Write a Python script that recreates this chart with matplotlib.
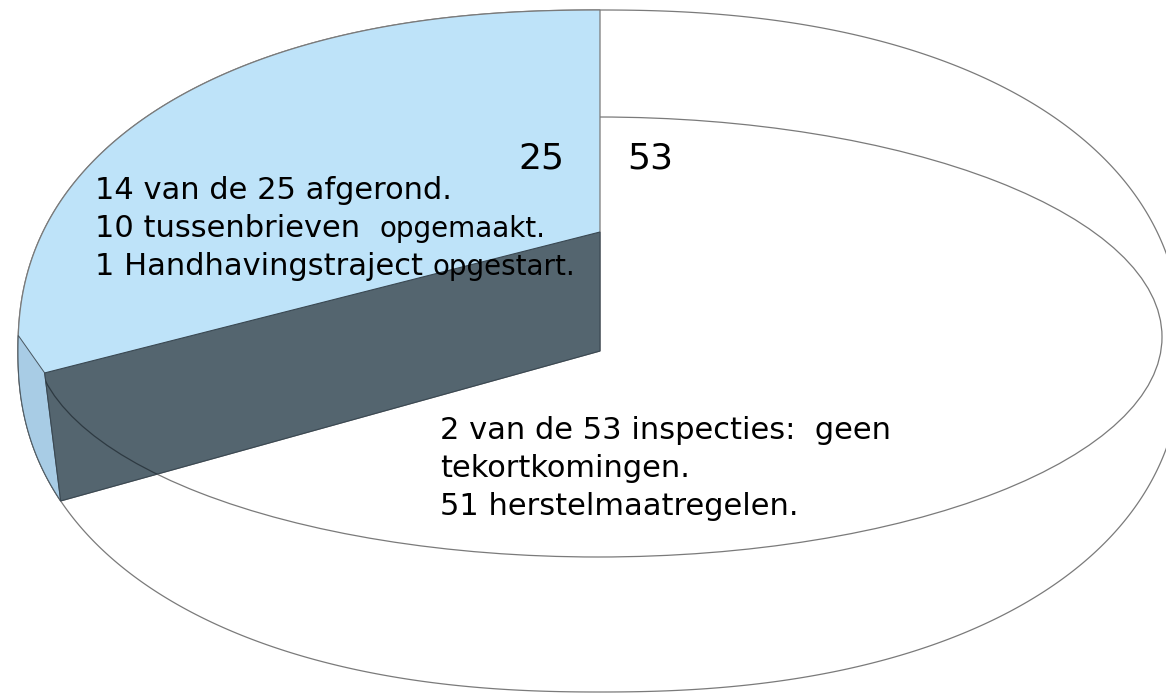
import numpy as np
import matplotlib.pyplot as plt
from matplotlib.patches import Polygon, Ellipse

# data
values = [25, 53]
value_labels = ['25', '53']
# (main text, trailing part that is set a bit smaller in the original)
lines_25 = [('14 van de 25 afgerond.', ''),
            ('10 tussenbrieven  ', 'opgemaakt.'),
            ('1 Handhavingstraject ', 'opgestart.')]
lines_53 = ['2 van de 53 inspecties:  geen',
            'tekortkomingen.',
            '51 herstelmaatregelen.']

# pie geometry (pixel coords, y pointing down)
cx, cy = 600, 351
rx, ry = 582, 341
squareness = 2.25


def rim(theta):
    # point on the pie edge for an angle in degrees (counterclockwise from 3 o'clock)
    t = np.radians(theta)
    c, s = np.cos(t), np.sin(t)
    r = (np.abs(c) ** squareness + np.abs(s) ** squareness) ** (1 / squareness)
    return cx + rx * c / r, cy - ry * s / r


fig = plt.figure(figsize=(11.66, 6.94), dpi=100)
ax = fig.add_axes([0, 0, 1, 1])
ax.set_xlim(0, 1166)
ax.set_ylim(694, 0)
ax.axis('off')

start = 90
end = start + 360 * values[0] / sum(values)

# outer outline of the pie (white slice)
ox, oy = rim(np.linspace(0, 360, 721))
ax.add_patch(Polygon(np.column_stack([ox, oy]), closed=True, fc='white',
                     ec='#7a7a7a', lw=0.9, zorder=1))
ax.add_patch(Ellipse((598, 337), 2 * 564, 2 * 220, fill=False,
                     ec='#7a7a7a', lw=0.9, zorder=2))

# blue slice
wx, wy = rim(np.linspace(start, end, 200))
wedge = np.vstack([[cx, cy], np.column_stack([wx, wy])])
ax.add_patch(Polygon(wedge, closed=True, fc='#bee3f9', ec='#7a7a7a',
                     lw=0.9, zorder=3))

# side wall and cut face of the blue slice
ex, ey = rim(end)
top_left = (ex - 16, ey - 128)
sx, sy = rim(np.linspace(end - 28, end, 60))
sliver = np.vstack([np.column_stack([sx, sy]), [top_left]])
ax.add_patch(Polygon(sliver, closed=True, fc='#a8cce5', ec='#4a5760',
                     lw=0.7, zorder=4))

slab = Polygon([(cx, cy), (ex, ey), top_left, (cx, cy - 119)], closed=True,
               fc='#54656f', ec='#3a4852', lw=0.8, zorder=5)
ax.add_patch(slab)
seen = Ellipse((598, 337), 2 * 564, 2 * 220, fill=False,
               ec='#2e3a42', lw=0.9, zorder=6)
ax.add_patch(seen)
seen.set_clip_path(slab)

# labels
font = 'DejaVu Sans'
ax.text(564, 168, value_labels[0], ha='right', va='baseline',
        fontsize=26, family=font, zorder=7)
ax.text(627, 168, value_labels[1], ha='left', va='baseline',
        fontsize=26, family=font, zorder=7)

for i, (main, tail) in enumerate(lines_25):
    head = ax.text(95, 199 + 38 * i, main, ha='left', va='baseline',
                   fontsize=22, family=font, zorder=7)
    if tail:
        ax.annotate(tail, xy=(1, 0), xycoords=head, ha='left', va='bottom',
                    fontsize=20, family=font, zorder=7)

for i, line in enumerate(lines_53):
    ax.text(440, 439 + 38 * i, line, ha='left', va='baseline',
            fontsize=22, family=font, zorder=7)

plt.savefig('out.png', dpi=100)
